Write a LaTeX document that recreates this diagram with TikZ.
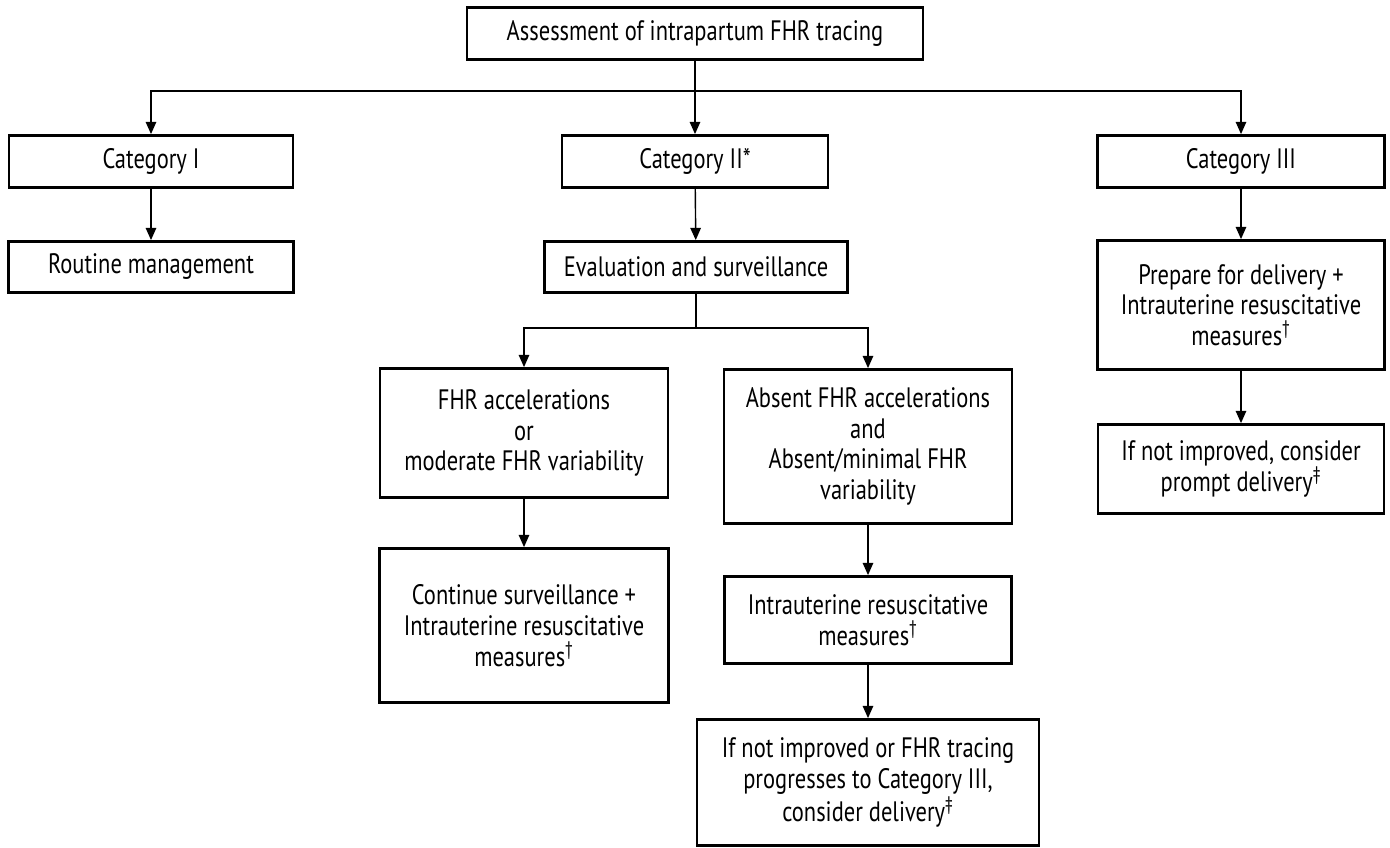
\documentclass[tikz,border=0pt]{standalone}
\usepackage{fontspec}
\setmainfont{PT Sans}[FakeStretch=0.8]
\usetikzlibrary{arrows.meta}

\tikzset{box/.style={draw, line width=1.6pt, align=center, inner sep=0pt,
    font=\fontsize{16}{17.5}\selectfont},
  link/.style={line width=0.8pt, -{Triangle[length=7pt,width=6pt]}}}

\begin{document}
\begin{tikzpicture}[x=0.02cm,y=-0.02cm]
\useasboundingbox (0,0) rectangle (1390,848);
% first row
\node[box, minimum width=9.12cm, minimum height=1.04cm] (top) at (695,33.5) {Assessment of intrapartum FHR tracing};
\coordinate (split1) at (695,91);
\node[box, minimum width=5.68cm, minimum height=1.04cm] (cat1) at (151,161.5) {Category I};
\node[box, minimum width=5.32cm, minimum height=1.04cm] (cat2) at (695,161.5) {Category II*};
\node[box, minimum width=5.74cm, minimum height=1.04cm] (cat3) at (1241,161.5) {Category III};
% second row
\node[box, minimum width=5.70cm, minimum height=1.02cm] (routine) at (151,267) {Routine management};
\node[box, minimum width=6.06cm, minimum height=1.02cm] (eval) at (696,267) {Evaluation and surveillance};
\node[box, minimum width=5.74cm, minimum height=2.58cm] (prep) at (1241,305) {Prepare for delivery +\\Intrauterine resuscitative\\measures\textsuperscript{\textdagger}};
\node[box, minimum width=5.72cm, minimum height=1.78cm] (prompt) at (1241,469) {If not improved, consider\\prompt delivery\textsuperscript{\textdaggerdbl}};
% category II branches
\coordinate (split2) at (696,328);
\node[box, minimum width=5.76cm, minimum height=2.58cm] (accel) at (524,433) {FHR accelerations\\or\\moderate FHR variability};
\node[box, minimum width=5.76cm, minimum height=3.08cm] (absent) at (868,446.5) {Absent FHR accelerations\\and\\Absent/minimal FHR\\variability};
\node[box, minimum width=5.78cm, minimum height=3.08cm] (cont) at (524,625.5) {Continue surveillance +\\Intrauterine resuscitative\\measures\textsuperscript{\textdagger}};
\node[box, minimum width=5.74cm, minimum height=1.74cm] (resus) at (868,620) {Intrauterine resuscitative\\measures\textsuperscript{\textdagger}};
\node[box, minimum width=6.84cm, minimum height=2.52cm] (deliv) at (868,782.5) {If not improved or FHR tracing\\progresses to Category III,\\consider delivery\textsuperscript{\textdaggerdbl}};
% connectors
\draw[link] (top) -- (cat2);
\draw[link] (split1) -| (cat1);
\draw[link] (split1) -| (cat3);
\draw[link] (cat1) -- (routine);
\draw[link] (cat2) -- (eval);
\draw[link] (cat3) -- (prep);
\draw[link] (prep) -- (prompt);
\draw[link,-] (eval) -- (split2);
\draw[link] (split2) -| (accel);
\draw[link] (split2) -| (absent);
\draw[link] (accel) -- (cont);
\draw[link] (absent) -- (resus);
\draw[link] (resus) -- (deliv);
\end{tikzpicture}
\end{document}
